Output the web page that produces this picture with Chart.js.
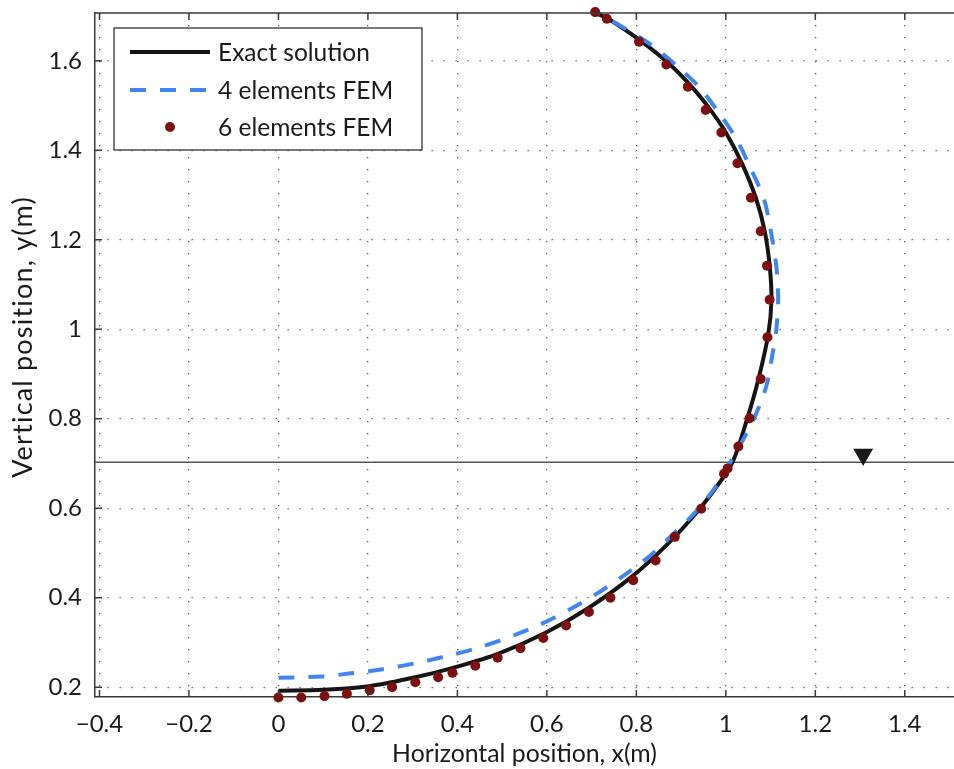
<!DOCTYPE html>
<html>
<head>
<meta charset="utf-8">
<script src="https://cdn.jsdelivr.net/npm/chart.js@4.4.1/dist/chart.umd.min.js"></script>
<style>
 html,body{margin:0;padding:0;background:#fff;}
 #wrap{width:954px;height:769px;position:relative;}
</style>
</head>
<body>
<div id="wrap"><canvas id="cable"></canvas></div>
<script>
// series labels
const seriesLabels=['Exact solution','4 elements FEM','6 elements FEM'];
// exact solution (x,y in m)
const exactX=[0,0.101,0.202,0.306,0.400,0.492,0.596,0.693,0.790,0.871,0.923,0.972,1.015,1.048,1.073,1.095,1.102,1.098,1.087,1.067,1.036,1.000,0.966,0.924,0.875,0.812,0.737,0.708];
const exactY=[0.192,0.194,0.202,0.222,0.246,0.275,0.321,0.377,0.447,0.521,0.577,0.638,0.703,0.801,0.889,0.990,1.066,1.142,1.219,1.294,1.371,1.440,1.490,1.542,1.592,1.643,1.694,1.707];
// 4 elements FEM
const fem4X=[0,0.100,0.162,0.233,0.304,0.374,0.440,0.508,0.583,0.655,0.718,0.774,0.832,0.878,0.930,0.975,1.010,1.058,1.090,1.104,1.113,1.117,1.113,1.102,1.086,1.054,1.022,0.981,0.940,0.888,0.830,0.770,0.715];
const fem4Y=[0.221,0.224,0.231,0.240,0.253,0.269,0.286,0.309,0.339,0.376,0.413,0.451,0.495,0.538,0.589,0.645,0.703,0.790,0.871,0.943,1.000,1.070,1.140,1.211,1.289,1.363,1.428,1.489,1.542,1.591,1.638,1.675,1.707];
// 6 elements FEM
const fem6X=[0,0.051,0.103,0.153,0.204,0.254,0.306,0.357,0.389,0.440,0.490,0.541,0.592,0.643,0.694,0.742,0.793,0.843,0.886,0.945,0.996,1.004,1.028,1.053,1.078,1.093,1.098,1.092,1.078,1.056,1.026,0.990,0.955,0.915,0.867,0.806,0.734,0.708];
const fem6Y=[0.177,0.177,0.180,0.185,0.193,0.200,0.211,0.222,0.232,0.248,0.266,0.287,0.310,0.338,0.368,0.400,0.439,0.483,0.536,0.599,0.677,0.689,0.738,0.801,0.889,0.982,1.066,1.142,1.219,1.294,1.371,1.440,1.490,1.542,1.592,1.643,1.694,1.709];
// water level line + marker
const waterLevel=0.703;
const markerX=[1.307], markerY=[0.720];
// axes
const xMin=-0.41, xMax=1.51, yMin=0.178, yMax=1.707;
const xTicks=[-0.4,-0.2,0,0.2,0.4,0.6,0.8,1,1.2,1.4];
const yTicks=[0.2,0.4,0.6,0.8,1,1.2,1.4,1.6];

const FONT='Lato';
const ink='#1a1a1a', axisCol='#3a3a3a';
const pts=(xs,ys)=>xs.map((v,i)=>({x:v,y:ys[i]}));
const fmt=v=>v<0?'\u2212'+Math.abs(v):String(v);

const decor={
 id:'decor',
 afterDraw(chart){
  const {ctx,chartArea:a,scales:{x,y}}=chart;
  const ds=chart.data.datasets;
  ctx.save();
  // top frame + inward tick marks
  ctx.strokeStyle=axisCol;ctx.lineWidth=1.5;
  ctx.beginPath();
  ctx.moveTo(a.left,a.top);ctx.lineTo(a.right,a.top);
  xTicks.forEach(v=>{const p=x.getPixelForValue(v);ctx.moveTo(p,a.bottom);ctx.lineTo(p,a.bottom-7);ctx.moveTo(p,a.top);ctx.lineTo(p,a.top+7);});
  yTicks.forEach(v=>{const p=y.getPixelForValue(v);ctx.moveTo(a.left,p);ctx.lineTo(a.left+7,p);});
  ctx.stroke();
  // axis titles
  ctx.fillStyle=ink;ctx.textBaseline='alphabetic';ctx.textAlign='center';
  ctx.font=`24.8px ${FONT}`;
  ctx.fillText('Horizontal position, x(m)',(a.left+a.right)/2,762);
  ctx.save();ctx.translate(32,337);ctx.rotate(-Math.PI/2);
  ctx.font=`27px ${FONT}`;ctx.letterSpacing='1.2px';
  ctx.fillText('Vertical position, y(m)',0,0);
  ctx.restore();
  // legend box
  const bx=a.left+19,by=a.top+15,bw=308,bh=122;
  ctx.fillStyle='#fff';ctx.fillRect(bx,by,bw,bh);
  ctx.strokeStyle='#333';ctx.lineWidth=1.3;ctx.strokeRect(bx,by,bw,bh);
  const rows=[by+24,by+62,by+99];
  ctx.font=`24.5px ${FONT}`;ctx.textAlign='left';ctx.textBaseline='middle';
  [0,1,2].forEach(i=>{
   const d=ds[i],ry=rows[i];
   if(d.showLine){
    ctx.strokeStyle=d.borderColor;ctx.lineWidth=d.borderWidth;ctx.setLineDash(d.borderDash||[]);
    ctx.beginPath();ctx.moveTo(bx+16,ry);ctx.lineTo(bx+96,ry);ctx.stroke();ctx.setLineDash([]);
   }else{
    ctx.fillStyle=d.backgroundColor;ctx.beginPath();ctx.arc(bx+56,ry,d.pointRadius,0,Math.PI*2);ctx.fill();
   }
   ctx.fillStyle=ink;ctx.fillText(seriesLabels[i],bx+104,ry+1);
  });
  ctx.restore();
 }
};

new Chart(document.getElementById('cable'),{
 type:'scatter',
 data:{datasets:[
  {label:seriesLabels[0],data:pts(exactX,exactY),showLine:true,borderColor:'#151515',borderWidth:4,pointRadius:0,tension:0.3,order:2,clip:false},
  {label:seriesLabels[1],data:pts(fem4X,fem4Y),showLine:true,borderColor:'#3f86f2',borderWidth:4,borderDash:[16,14],pointRadius:0,tension:0.3,order:1,clip:false},
  {label:seriesLabels[2],data:pts(fem6X,fem6Y),showLine:false,backgroundColor:'#7c1010',borderWidth:0,pointRadius:5,order:0,clip:false},
  {label:'water',data:[{x:xMin,y:waterLevel},{x:xMax,y:waterLevel}],showLine:true,borderColor:'#555',borderWidth:1.5,pointRadius:0,order:3},
  {label:'marker',data:pts(markerX,markerY),showLine:false,pointStyle:'triangle',rotation:180,pointRadius:11.5,backgroundColor:'#1a1a1a',borderWidth:0,order:0,clip:false}
 ]},
 options:{
  responsive:true,maintainAspectRatio:false,animation:false,events:[],
  layout:{autoPadding:false,padding:{left:0,top:13,right:0,bottom:0}},
  plugins:{legend:{display:false},tooltip:{enabled:false}},
  scales:{
   x:{type:'linear',min:xMin,max:xMax,
      afterBuildTicks:s=>{s.ticks=xTicks.map(v=>({value:v}));},
      afterFit:s=>{s.height=72;s.paddingLeft=0;s.paddingRight=0;},
      grid:{color:'#555',lineWidth:1.3,drawTicks:false},
      border:{display:true,color:axisCol,width:1.5,dash:[1.3,10.7]},
      ticks:{color:ink,font:{family:FONT,size:24},padding:13,maxRotation:0,callback:v=>fmt(v)}},
   y:{type:'linear',min:yMin,max:yMax,
      afterBuildTicks:s=>{s.ticks=yTicks.map(v=>({value:v}));},
      afterFit:s=>{s.width=95;s.paddingTop=0;s.paddingBottom=0;},
      grid:{color:'#555',lineWidth:1.3,drawTicks:false},
      border:{display:true,color:axisCol,width:1.5,dash:[1.3,10.7]},
      ticks:{color:ink,font:{family:FONT,size:24},padding:13,callback:v=>fmt(v)}}
  }
 },
 plugins:[decor]
});
</script>
</body>
</html>
